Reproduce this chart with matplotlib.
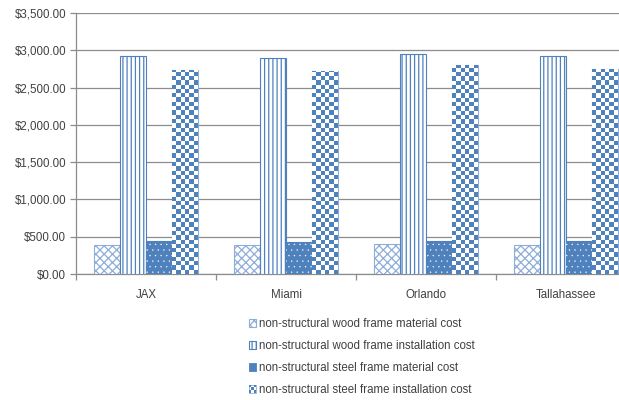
import numpy as np
import matplotlib
matplotlib.use("Agg")
import matplotlib.pyplot as plt
from matplotlib.ticker import FuncFormatter, MultipleLocator
from matplotlib.colors import ListedColormap
from matplotlib.patches import Rectangle
from matplotlib.legend_handler import HandlerBase

# --- data ---
cities = ["JAX", "Miami", "Orlando", "Tallahassee"]
wood_material = [389, 389, 402, 385]
wood_install = [2920, 2902, 2956, 2917]
steel_material = [446, 433, 446, 442]
steel_install = [2741, 2728, 2799, 2755]
labels = [
    "non-structural wood frame material cost",
    "non-structural wood frame installation cost",
    "non-structural steel frame material cost",
    "non-structural steel frame installation cost",
]

blue = "#4F81BD"
light = "#8EADD8"
txt = "#404040"
grid = "#8C8C8C"
fs = 8.3

plt.rcParams["font.family"] = ["Liberation Sans", "DejaVu Sans"]
plt.rcParams["hatch.linewidth"] = 0.9

fig = plt.figure(figsize=(6.19, 4.00), dpi=100)
# plot area runs a little past the right edge of the figure
ax = fig.add_axes([76 / 619, 1 - 274 / 400, 560 / 619, 261 / 400])

x = np.arange(len(cities))
w = 0.184
off = np.array([-1.5, -0.5, 0.5, 1.5]) * w

b1 = ax.bar(x + off[0], wood_material, w, facecolor="white", edgecolor=light,
            hatch="xxxx", linewidth=0.8, zorder=3)
b2 = ax.bar(x + off[1], wood_install, w, facecolor="white", edgecolor=blue,
            hatch="||||", linewidth=0.8, zorder=3)
b3 = ax.bar(x + off[2], steel_material, w, facecolor=blue, edgecolor=blue,
            linewidth=0.8, zorder=3)
# small white dots on the solid steel bars
with plt.rc_context({"hatch.linewidth": 0.2}):
    ax.bar(x + off[2], steel_material, w, facecolor="none", edgecolor="white",
           hatch="...", linewidth=0, zorder=4)
b4 = ax.bar(x + off[3], steel_install, w, facecolor="white", edgecolor=light,
            linewidth=0.8, zorder=3)

# checkerboard fill for the steel installation bars
px_per_y = 261 / 3500
nx = 6
cell_px = w * 140 / nx
checker_cmap = ListedColormap(["white", blue])
for bar in b4:
    bx, bw, bh = bar.get_x(), bar.get_width(), bar.get_height()
    ny = int(np.ceil(bh * px_per_y / cell_px))
    yy, xx = np.indices((ny, nx))
    img = (xx + yy) % 2
    im = ax.imshow(img, cmap=checker_cmap, interpolation="nearest", aspect="auto",
                   origin="lower", extent=(bx, bx + bw, 0, ny * cell_px / px_per_y),
                   zorder=3.5)
    im.set_clip_path(bar)

ax.set_xlim(-0.5, 3.5)
ax.set_ylim(0, 3500)

ax.yaxis.set_major_locator(MultipleLocator(500))
ax.yaxis.set_major_formatter(FuncFormatter(lambda v, p: f"${v:,.2f}"))
ax.grid(axis="y", color=grid, linewidth=0.9, zorder=0)
ax.set_axisbelow(True)

ax.set_xticks(x)
ax.set_xticklabels(cities)
ax.set_xticks(np.arange(-0.5, 4.0, 1.0), minor=True)
ax.tick_params(axis="x", which="major", length=0, pad=11, labelsize=fs, labelcolor=txt)
ax.tick_params(axis="x", which="minor", length=4, color=grid, width=0.9)
ax.tick_params(axis="y", length=4, color=grid, width=0.9, pad=3, labelsize=fs, labelcolor=txt)

for s in ["top", "right"]:
    ax.spines[s].set_visible(False)
for s in ["left", "bottom"]:
    ax.spines[s].set_color(grid)
    ax.spines[s].set_linewidth(0.9)


class CheckerHandler(HandlerBase):
    def create_artists(self, legend, orig_handle, xdescent, ydescent, width, height,
                       fontsize, trans):
        arts = [Rectangle((-xdescent, -ydescent), width, height, facecolor="white",
                          edgecolor=light, linewidth=0.6, transform=trans)]
        n = 3
        cw, ch = width / n, height / n
        for i in range(n):
            for j in range(n):
                if (i + j) % 2 == 0:
                    arts.append(Rectangle((-xdescent + i * cw, -ydescent + j * ch), cw, ch,
                                          facecolor=blue, linewidth=0, transform=trans))
        return arts


class DotHandler(HandlerBase):
    def create_artists(self, legend, orig_handle, xdescent, ydescent, width, height,
                       fontsize, trans):
        return [Rectangle((-xdescent, -ydescent), width, height, facecolor=blue,
                          edgecolor=blue, linewidth=0.6, transform=trans)]


fig.legend([b1, b2, b3, b4], labels, loc="upper left",
           bbox_to_anchor=(249 / 619, 1 - 318 / 400), frameon=False,
           fontsize=fs, labelcolor=txt, handlelength=0.65, handleheight=0.65,
           handletextpad=0.25, labelspacing=0.86, borderpad=0, borderaxespad=0,
           handler_map={b3: DotHandler(), b4: CheckerHandler()})

fig.savefig("out.png", dpi=100)
